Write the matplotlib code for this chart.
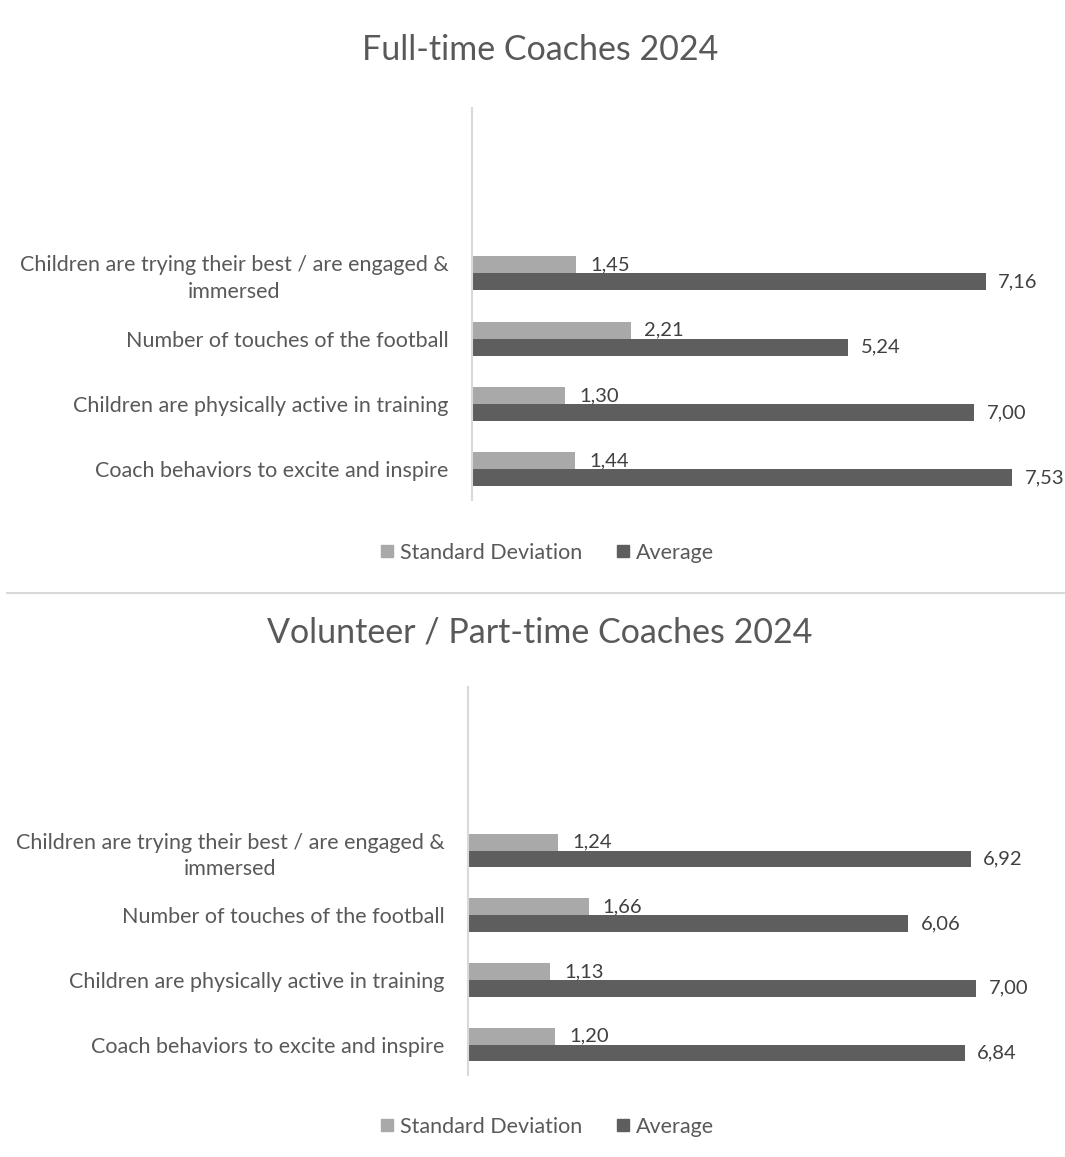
import numpy as np
import matplotlib
matplotlib.use("Agg")
import matplotlib.pyplot as plt
from matplotlib.lines import Line2D

plt.rcParams['font.family'] = ['Lato', 'DejaVu Sans']

# data
categories = ["Coach behaviors to excite and inspire",
              "Children are physically active in training",
              "Number of touches of the football",
              "Children are trying their best / are engaged &\nimmersed"]
ft_sd = [1.44, 1.30, 2.21, 1.45]
ft_avg = [7.53, 7.00, 5.24, 7.16]
pt_sd = [1.20, 1.13, 1.66, 1.24]
pt_avg = [6.84, 7.00, 6.06, 6.92]
titles = ["Full-time Coaches 2024", "Volunteer / Part-time Coaches 2024"]
series_names = ["Standard Deviation", "Average"]

TXT = "#595959"
C_SD = "#A9A9A9"
C_AVG = "#5E5E5E"

W, H = 1065, 1157
fig = plt.figure(figsize=(W / 100, H / 100), dpi=100)


def px_ax(l, t, r, b):
    return fig.add_axes([l / W, 1 - b / H, (r - l) / W, (b - t) / H])


def panel(ax, sd, avg, title, title_y, leg_y):
    y = np.arange(len(categories))
    h = 0.26
    ax.barh(y + h / 2, sd, height=h, color=C_SD, label=series_names[0])
    ax.barh(y - h / 2, avg, height=h, color=C_AVG, label=series_names[1])
    for yi, v in zip(y, sd):
        ax.annotate(f"{v:.2f}".replace(".", ","), (v, yi + h / 2), xytext=(10, 0),
                    textcoords="offset points", va="center", ha="left",
                    fontsize=14.5, color="#404040")
    for yi, v in zip(y, avg):
        ax.annotate(f"{v:.2f}".replace(".", ","), (v, yi - h / 2), xytext=(9, 0),
                    textcoords="offset points", va="center", ha="left",
                    fontsize=14.5, color="#404040")
    ax.set_xlim(0, 8)
    ax.set_ylim(-0.47, 5.53)
    ax.set_yticks(y, categories)
    for lab in ax.get_yticklabels():
        lab.set_multialignment("center")
        lab.set_linespacing(1.4)
    ax.tick_params(axis="y", length=0, pad=17, labelsize=15.5, labelcolor=TXT)
    ax.set_xticks([])
    for s in ["top", "right", "bottom"]:
        ax.spines[s].set_visible(False)
    ax.spines["left"].set_color("#D9D9D9")
    ax.spines["left"].set_linewidth(1.5)
    fig.text(540 / W, 1 - title_y / H, title, ha="center", va="center",
             fontsize=24.5, color=TXT)
    handles = [Line2D([], [], marker="s", linestyle="none", markersize=9,
                      color=c) for c in (C_SD, C_AVG)]
    fig.legend(handles, series_names, loc="center", bbox_to_anchor=(545 / W, 1 - leg_y / H),
               ncol=2, frameon=False, fontsize=15.5, labelcolor=TXT,
               handletextpad=0.1, columnspacing=1.4, handlelength=1.0)


ax1 = px_ax(472, 108, 1046, 500)
panel(ax1, ft_sd, ft_avg, titles[0], 50, 553)
ax2 = px_ax(468, 687, 1049, 1075)
panel(ax2, pt_sd, pt_avg, titles[1], 632, 1127)

fig.add_artist(Line2D([7 / W, 1], [1 - 593 / H, 1 - 593 / H], color="#D9D9D9", lw=1.5))

fig.savefig("out.png", dpi=100)
